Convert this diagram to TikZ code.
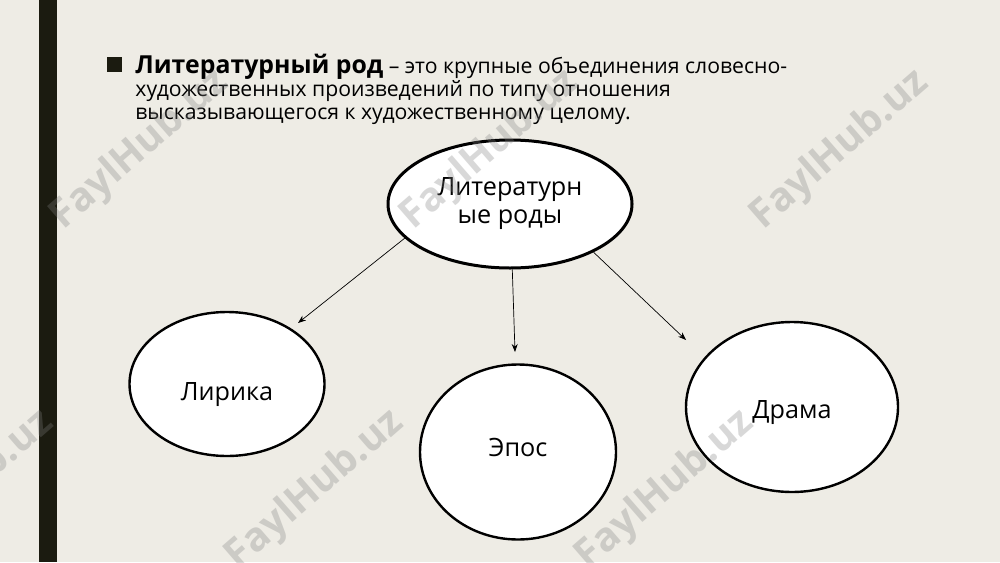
\documentclass[tikz,border=0pt]{standalone}
\usepackage{fontspec}
\setmainfont{Open Sans}
\usetikzlibrary{arrows.meta,shapes.geometric}
\definecolor{slidebg}{HTML}{EEECE5}
\definecolor{barcol}{HTML}{1B1B10}

\begin{document}
\begin{tikzpicture}[x=0.5pt,y=-0.5pt,
  genre/.style={ellipse,draw=black,line width=1.2pt,fill=white,inner sep=0pt,
    align=center,font=\fontsize{12.6}{14}\selectfont},
  arr/.style={-{Stealth[length=4pt,width=3pt]},line width=0.35pt},
  wm/.style={rotate=41,text=gray,opacity=0.3,font=\bfseries\fontsize{20}{20}\selectfont}]
\useasboundingbox(0,0)rectangle(1000,562);
\fill[slidebg](0,0)rectangle(1000,562);
\fill[barcol](39,0)rectangle(57,562);
\fill[barcol](107,57)rectangle(122,72);
% definition
\node[anchor=north west,align=left,inner sep=0pt,font=\fontsize{10.6}{11.5}\selectfont] (def) at (135,54)
 {{\bfseries\fontsize{12.4}{11.5}\selectfont Литературный род} – это крупные объединения словесно-\\
 художественных произведений по типу отношения\\
 высказывающегося к художественному целому.};
% genres
\node[genre,line width=1.5pt,minimum width=122pt,minimum height=64pt] (rod) at (510,204) {Литературн\\ые роды};
\node[genre,minimum width=97.5pt,minimum height=72pt,text height=19pt,text depth=3pt] (lyr) at (227,384) {Лирика};
\node[genre,minimum width=98pt,minimum height=87.5pt,text height=9pt,text depth=5pt] (epos) at (518,452) {Эпос};
\node[genre,minimum width=106pt,minimum height=85pt,text height=14pt,text depth=2.5pt] (drama) at (792,407) {Драма};
\coordinate (t1) at (298,323);
\coordinate (t2) at (515,352);
\coordinate (t3) at (686,340);
\draw[arr](rod.198)--(t1);
\draw[arr](rod.272)--(t2);
\draw[arr](rod.330)--(t3);
% watermark
\foreach \wx/\wy [count=\i] in {140/150,490/150,840/150,-35/490,315/490,665/490}
  \node[wm] (wm\i) at (\wx,\wy) {FaylHub.uz};
\end{tikzpicture}
\end{document}
